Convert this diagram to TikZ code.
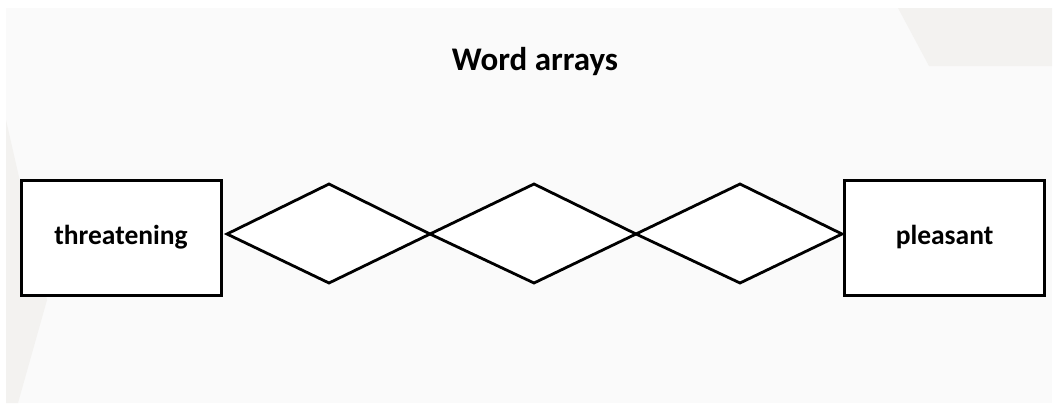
\documentclass[tikz,border=0pt]{standalone}
\usepackage{fontspec}
\setmainfont{Carlito}
\usetikzlibrary{shapes.geometric}
\definecolor{slidebg}{HTML}{FAFAFA}
\definecolor{accent}{HTML}{F3F2F0}
\begin{document}
\begin{tikzpicture}[x=1pt,y=-1pt,
  wordbox/.style={draw=black,line width=3pt,fill=white,minimum width=200pt,minimum height=115pt,inner sep=0pt,font=\fontsize{27.5}{30}\selectfont\bfseries},
  link/.style={draw=black,line width=2.8pt,line join=miter},
  title/.style={font=\fontsize{33}{38}\selectfont\bfseries}]
  \useasboundingbox (0,0) rectangle (1059,407);
  \fill[white] (0,0) rectangle (1059,407);
  % slide background with its faint decorative shapes
  \fill[slidebg] (6,8) rectangle (1052,403);
  \fill[accent] (898,8) -- (929,66) -- (1052,66) -- (1052,8) -- cycle;
  \fill[accent] (6,120) -- (47,300) -- (18,403) -- (6,403) -- cycle;
  \node[title] (title) at (535,62) {Word arrays};
  \node[wordbox] (left) at (121,237.5) {threatening};
  \node[wordbox] (right) at (944.5,237.5) {pleasant};
  % diamond chain between the two words
  \coordinate (p0) at (227,234);
  \coordinate (p1) at (430,234);
  \coordinate (p2) at (636,234);
  \coordinate (p3) at (842,234);
  \coordinate (t1) at (329,184);
  \coordinate (b1) at (329,283);
  \coordinate (t2) at (534,184);
  \coordinate (b2) at (534,283);
  \coordinate (t3) at (740,184);
  \coordinate (b3) at (740,283);
  \draw[link,fill=white] (p0) -- (t1) -- (p1) -- (b1) -- cycle;
  \draw[link,fill=white] (p1) -- (t2) -- (p2) -- (b2) -- cycle;
  \draw[link,fill=white] (p2) -- (t3) -- (p3) -- (b3) -- cycle;
\end{tikzpicture}
\end{document}
